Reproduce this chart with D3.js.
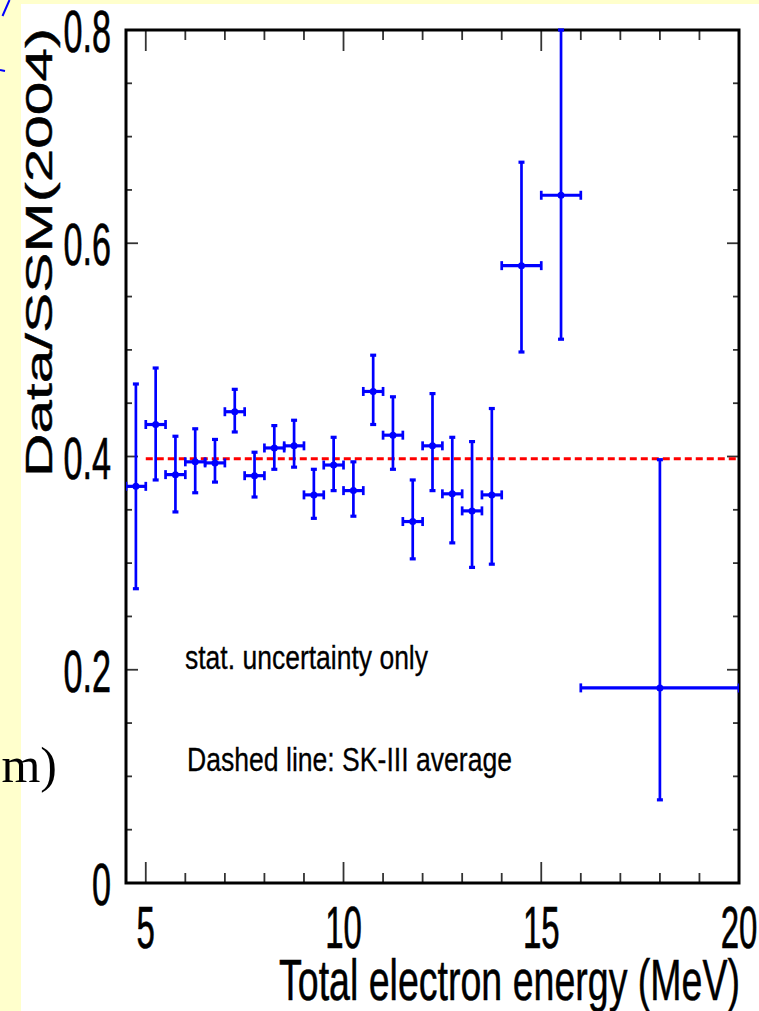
<!DOCTYPE html>
<html lang="en">
<head>
    <meta charset="UTF-8">
    <title>Data/SSM(2004) vs Total electron energy</title>
    <script src="https://d3js.org/d3.v7.min.js"></script>
    <style>
        html, body {
            margin: 0;
            padding: 0;
            background: #ffffff;
        }
        svg {
            display: block;
        }
        text {
            font-family: "Liberation Sans", Arial, sans-serif;
            fill: #000;
            stroke: #000;
            stroke-width: 0.3px;
        }
        text.serif {
            stroke: none;
        }
    </style>
</head>
<body>
    <svg id="chart" width="759" height="1011"></svg>

    <script>
        // bins (MeV) and the ratio Data/SSM(2004) with stat. error range
        const binLow  = [4.5, 5.0, 5.5, 6.0, 6.5, 7.0, 7.5, 8.0, 8.5, 9.0, 9.5, 10.0, 10.5, 11.0, 11.5, 12.0, 12.5, 13.0, 13.5, 14.0, 15.0, 16.0];
        const binHigh = [5.0, 5.5, 6.0, 6.5, 7.0, 7.5, 8.0, 8.5, 9.0, 9.5, 10.0, 10.5, 11.0, 11.5, 12.0, 12.5, 13.0, 13.5, 14.0, 15.0, 16.0, 20.0];
        const ratio   = [0.372, 0.430, 0.383, 0.395, 0.394, 0.442, 0.382, 0.408, 0.410, 0.364, 0.392, 0.368, 0.461, 0.420, 0.339, 0.410, 0.365, 0.349, 0.364, 0.579, 0.645, 0.183];
        const errLow  = [0.276, 0.378, 0.348, 0.366, 0.376, 0.423, 0.362, 0.388, 0.390, 0.342, 0.368, 0.344, 0.430, 0.388, 0.304, 0.368, 0.319, 0.296, 0.299, 0.498, 0.510, 0.078];
        const errHigh = [0.468, 0.483, 0.419, 0.426, 0.416, 0.463, 0.404, 0.429, 0.434, 0.388, 0.418, 0.395, 0.495, 0.456, 0.378, 0.459, 0.418, 0.414, 0.445, 0.676, 0.800, 0.397];

        const skAverage = 0.398;   // dashed line, SK-III average
        const avgFrom = 5, avgTo = 20;

        const xTickLabels = [5, 10, 15, 20];
        const xMinorTicks = d3.range(5, 20, 1);
        const yTickLabels = ["0", "0.2", "0.4", "0.6", "0.8"];
        const yMinorTicks = d3.range(0, 0.801, 0.05);

        const points = binLow.map((lo, i) => ({
            lo: lo, hi: binHigh[i], mid: (lo + binHigh[i]) / 2,
            v: ratio[i], eLo: errLow[i], eHi: errHigh[i]
        }));

        const svg = d3.select("#chart");

        // slide remnants behind the plot
        svg.append("rect").attr("x", 0).attr("y", 0).attr("width", 759).attr("height", 4).attr("fill", "#ffffcc");
        svg.append("rect").attr("x", 0).attr("y", 0).attr("width", 21).attr("height", 1011).attr("fill", "#ffffcc");
        svg.append("path").attr("d", "M9.5,0 L2.5,16").attr("stroke", "#0000ff").attr("stroke-width", 2).attr("fill", "none");
        svg.append("path").attr("d", "M0,70 L5,71").attr("stroke", "#0000ff").attr("stroke-width", 2).attr("fill", "none");
        svg.append("text")
            .attr("class", "serif")
            .attr("x", 57).attr("y", 782)
            .attr("text-anchor", "end")
            .style("font-family", "'Liberation Serif', 'Times New Roman', serif")
            .style("font-size", "50px")
            .text("m)");

        const x = d3.scaleLinear().domain([4.5, 20]).range([126, 739]);
        const y = d3.scaleLinear().domain([0, 0.8]).range([883, 30]);

        const x0 = x(4.5), x1 = x(20), y0 = y(0), y1 = y(0.8);

        // ticks (inside, on all four sides)
        const ticks = svg.append("g").attr("stroke", "#333").attr("stroke-width", 1.8);
        const xMaj = 21, xMin = 10, yMaj = 12, yMin = 6;

        xMinorTicks.forEach(t => {
            const len = xTickLabels.includes(t) ? xMaj : xMin;
            ticks.append("line").attr("x1", x(t)).attr("x2", x(t)).attr("y1", y0).attr("y2", y0 - len);
            ticks.append("line").attr("x1", x(t)).attr("x2", x(t)).attr("y1", y1).attr("y2", y1 + len);
        });
        yMinorTicks.forEach(t => {
            const major = Math.abs(t * 5 - Math.round(t * 5)) < 1e-6;
            const len = major ? yMaj : yMin;
            ticks.append("line").attr("x1", x0).attr("x2", x0 + len).attr("y1", y(t)).attr("y2", y(t));
            ticks.append("line").attr("x1", x1).attr("x2", x1 - len).attr("y1", y(t)).attr("y2", y(t));
        });

        // frame
        svg.append("rect")
            .attr("x", x0).attr("y", y1)
            .attr("width", x1 - x0).attr("height", y0 - y1)
            .attr("fill", "none").attr("stroke", "#000").attr("stroke-width", 3);

        // tick labels
        svg.append("g").selectAll("text")
            .data(xTickLabels)
            .join("text")
            .attr("transform", d => `translate(${x(d)},948) scale(0.55,1)`)
            .attr("text-anchor", "middle")
            .style("font-size", "60px")
            .style("stroke-width", "0.7px")
            .text(d => d);

        svg.append("g").selectAll("text")
            .data(yTickLabels)
            .join("text")
            .attr("transform", d => `translate(111,${y(+d) + 22}) scale(0.57,1)`)
            .attr("text-anchor", "end")
            .style("font-size", "60px")
            .style("stroke-width", "0.7px")
            .text(d => d);

        // axis titles
        svg.append("text")
            .attr("x", 279).attr("y", 1000)
            .attr("textLength", 461).attr("lengthAdjust", "spacingAndGlyphs")
            .style("font-size", "57px")
            .style("stroke-width", "0.5px")
            .text("Total electron energy (MeV)");

        svg.append("text")
            .attr("transform", "translate(52,477) rotate(-90)")
            .attr("textLength", 449).attr("lengthAdjust", "spacingAndGlyphs")
            .style("font-size", "37px")
            .style("stroke-width", "0.4px")
            .text("Data/SSM(2004)");

        // notes
        svg.append("text")
            .attr("x", 185).attr("y", 669)
            .attr("textLength", 243).attr("lengthAdjust", "spacingAndGlyphs")
            .style("font-size", "33px")
            .text("stat. uncertainty only");

        svg.append("text")
            .attr("x", 187).attr("y", 771)
            .attr("textLength", 325).attr("lengthAdjust", "spacingAndGlyphs")
            .style("font-size", "32.5px")
            .text("Dashed line: SK-III average");

        // data
        svg.append("clipPath").attr("id", "plot-clip")
            .append("rect").attr("x", x0).attr("y", y1 - 2).attr("width", x1 - x0).attr("height", y0 - y1 + 2);

        const plot = svg.append("g").attr("clip-path", "url(#plot-clip)");

        plot.append("line")
            .attr("x1", x(avgFrom)).attr("x2", x(avgTo))
            .attr("y1", y(skAverage)).attr("y2", y(skAverage))
            .attr("stroke", "#ff0000").attr("stroke-width", 3)
            .attr("stroke-dasharray", "7,4");

        const pts = plot.append("g").selectAll("g")
            .data(points)
            .join("g")
            .attr("stroke", "#0000ff")
            .attr("fill", "#0000ff");

        pts.append("line")
            .attr("x1", d => x(d.mid)).attr("x2", d => x(d.mid))
            .attr("y1", d => y(d.eLo)).attr("y2", d => y(d.eHi))
            .attr("stroke-width", 2.7);
        pts.append("line")
            .attr("x1", d => x(d.lo)).attr("x2", d => x(d.hi))
            .attr("y1", d => y(d.v)).attr("y2", d => y(d.v))
            .attr("stroke-width", 3.2);

        // caps
        [d => d.eLo, d => d.eHi].forEach(f => {
            pts.append("line")
                .attr("x1", d => x(d.mid) - 3).attr("x2", d => x(d.mid) + 3)
                .attr("y1", d => y(f(d))).attr("y2", d => y(f(d)))
                .attr("stroke-width", 3.2);
        });
        [d => d.lo, d => d.hi].forEach(f => {
            pts.append("line")
                .attr("x1", d => x(f(d))).attr("x2", d => x(f(d)))
                .attr("y1", d => y(d.v) - 4.5).attr("y2", d => y(d.v) + 4.5)
                .attr("stroke-width", 2.7);
        });

        pts.append("circle")
            .attr("cx", d => x(d.mid)).attr("cy", d => y(d.v))
            .attr("r", 3.5)
            .attr("stroke", "none");
    </script>
</body>
</html>
